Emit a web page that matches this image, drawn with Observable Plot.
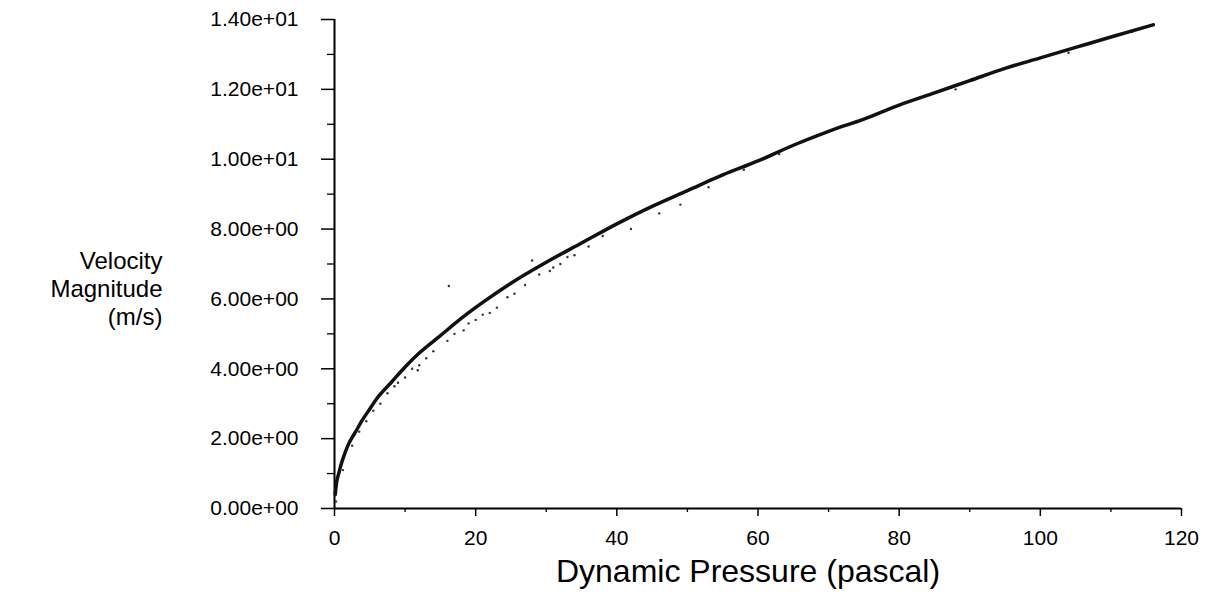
<!DOCTYPE html>
<html>
<head>
<meta charset="utf-8">
<script src="https://cdn.jsdelivr.net/npm/d3@7"></script>
<script src="https://cdn.jsdelivr.net/npm/@observablehq/plot@0.6"></script>
<style>
  html, body { margin: 0; padding: 0; background: #fff; }
  #chart svg { display: block; font-family: "Liberation Sans", Arial, sans-serif; }
</style>
</head>
<body>
<div id="chart"></div>
<script>
// Dynamic pressure (pascal) along the main band
const pressure = [0.1, 0.3, 0.6, 1, 1.5, 2, 3, 4, 5, 6, 8, 10, 12, 15, 18, 21, 25, 30, 35, 40, 45, 50, 55, 60, 65, 70, 75, 80, 85, 90, 95, 100, 105, 110, 116];
// Velocity magnitude (m/s) along the main band
const velocity = [0.4, 0.75, 1.0, 1.3, 1.6, 1.85, 2.2, 2.55, 2.85, 3.15, 3.6, 4.05, 4.45, 4.95, 5.45, 5.9, 6.45, 7.05, 7.6, 8.15, 8.65, 9.1, 9.55, 9.95, 10.4, 10.8, 11.15, 11.55, 11.9, 12.25, 12.6, 12.9, 13.2, 13.5, 13.85];
// scattered cells lying off the main band
const scatterPressure = [0.2, 1.2, 2.5, 3.5, 4.5, 5.5, 6.5, 7.5, 8.5, 9, 10, 11, 11.8, 12, 13, 14, 16, 16.2, 17, 18.3, 19, 20, 21, 22, 23, 24.5, 25.5, 27, 28, 29, 30.5, 31, 32, 33, 34, 36, 38, 42, 46, 49, 53, 58, 63, 72, 88, 104, 113];
const scatterVelocity = [0.2, 1.1, 1.8, 2.2, 2.5, 2.8, 3.0, 3.3, 3.5, 3.6, 3.75, 4.0, 3.96, 4.1, 4.3, 4.5, 4.8, 6.37, 5.0, 5.1, 5.3, 5.4, 5.55, 5.6, 5.75, 6.05, 6.15, 6.4, 7.1, 6.7, 6.8, 6.9, 7.0, 7.2, 7.25, 7.5, 7.8, 8.0, 8.45, 8.7, 9.2, 9.7, 10.15, 10.95, 12.0, 13.05, 13.65];

const xTicks = [0, 20, 40, 60, 80, 100, 120];
const xMinorTicks = [10, 30, 50, 70, 90, 110];
const yTicks = [0, 2, 4, 6, 8, 10, 12, 14];
const yTickLabels = ["0.00e+00", "2.00e+00", "4.00e+00", "6.00e+00", "8.00e+00", "1.00e+01", "1.20e+01", "1.40e+01"];
const yMinorTicks = [1, 3, 5, 7, 9, 11, 13];
const xTitle = "Dynamic Pressure (pascal)";
const yTitle = "Velocity\nMagnitude\n(m/s)";

const band = pressure.map((q, i) => ({q, v: velocity[i]}));
const scatter = scatterPressure.map((q, i) => ({q, v: scatterVelocity[i]}));

const chart = Plot.plot({
  width: 1206,
  height: 596,
  marginLeft: 334,
  marginRight: 25,
  marginTop: 19,
  marginBottom: 88,
  style: {fontFamily: "'Liberation Sans', Arial, sans-serif", color: "#000", background: "#fff"},
  x: {domain: [0, 120]},
  y: {domain: [0, 14]},
  marks: [
    Plot.axisY(yTicks, {tickSize: 13, tickPadding: 23, fontSize: 21, stroke: "#000", strokeWidth: 1.5, tickFormat: d => yTickLabels[yTicks.indexOf(d)], label: null}),
    Plot.axisY(yMinorTicks, {tickSize: 7, stroke: "#000", strokeWidth: 1.3, tickFormat: () => "", label: null}),
    Plot.axisX(xTicks, {tickSize: 8, tickPadding: 14, fontSize: 21, stroke: "#000", strokeWidth: 1.5, label: null}),
    Plot.axisX(xMinorTicks, {tickSize: 4, stroke: "#000", strokeWidth: 1.3, tickFormat: () => "", label: null}),
    Plot.ruleX([0], {stroke: "#000", strokeWidth: 2}),
    Plot.ruleY([0], {stroke: "#000", strokeWidth: 2}),
    Plot.dot(scatter, {x: "q", y: "v", r: 1.2, fill: "#333", stroke: "none"}),
    Plot.line(band, {x: "q", y: "v", stroke: "#111", strokeWidth: 3.5, curve: "monotone-x"}),
    Plot.text([xTitle], {frameAnchor: "bottom", dx: -10, dy: 73, fontSize: 32, fill: "#000"}),
    Plot.text([yTitle], {frameAnchor: "left", textAnchor: "end", dx: -172, dy: 24, fontSize: 24, lineHeight: 1.18, fill: "#000"})
  ]
});
document.getElementById("chart").append(chart);
</script>
</body>
</html>
